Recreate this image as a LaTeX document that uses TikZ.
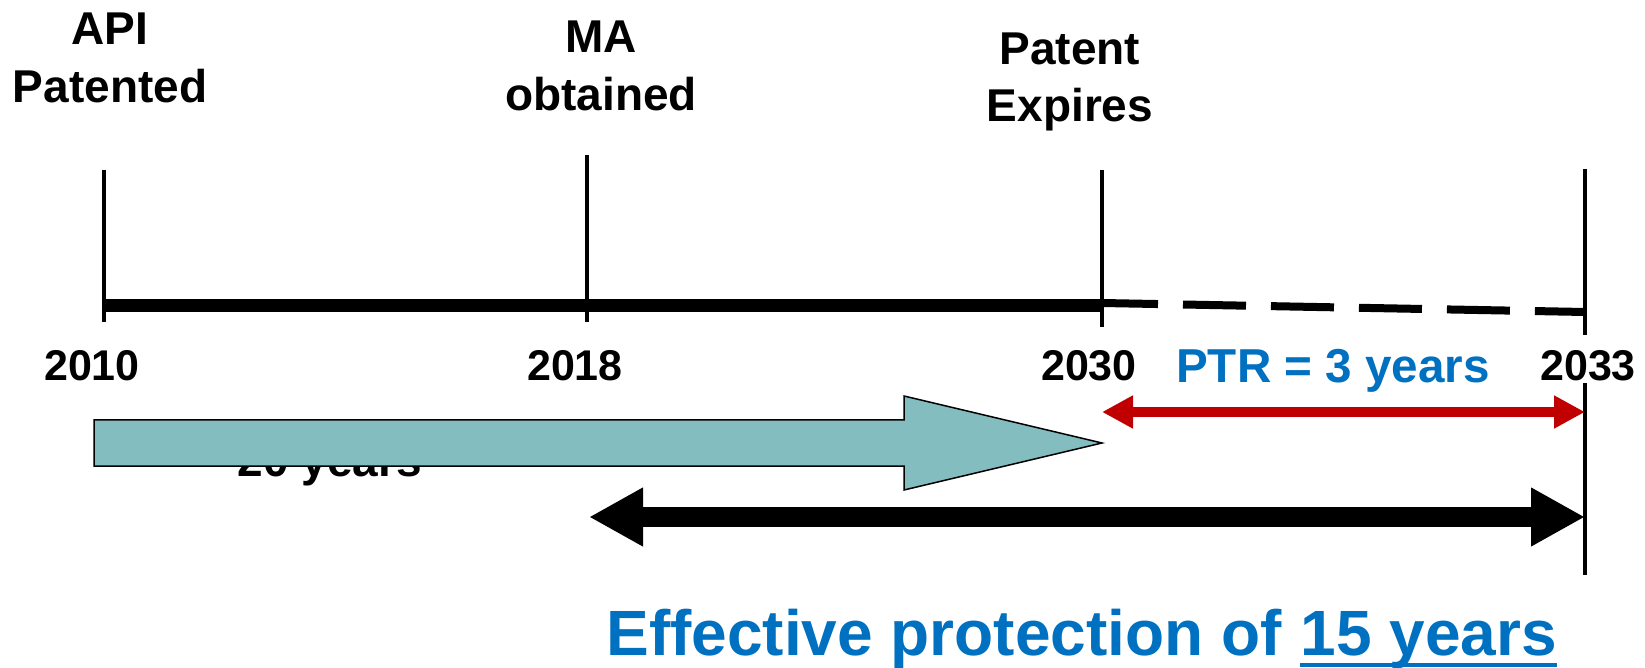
\documentclass[tikz,border=0pt]{standalone}
\usepackage{fontspec}
\setmainfont{Liberation Sans}
\usetikzlibrary{arrows.meta}
\definecolor{tealfill}{HTML}{84BDC0}
\definecolor{ptrblue}{HTML}{0070C0}
\definecolor{ptrred}{HTML}{C00000}
\tikzset{
  redtip/.tip={Triangle[length=15.5pt,width=15.5pt]},
  blacktip/.tip={Triangle[length=27pt,width=27.5pt]}}
\begin{document}
\begin{tikzpicture}[x=0.5pt,y=-0.5pt,
  lbl/.style={font=\fontsize{23pt}{28pt}\selectfont\bfseries, inner sep=0pt, anchor=base},
  yr/.style={font=\fontsize{21.5pt}{26pt}\selectfont\bfseries, inner sep=0pt, anchor=base},
  efftext/.style={font=\fontsize{32pt}{36pt}\selectfont\bfseries, text=ptrblue, inner sep=0pt, anchor=base west},
  tickline/.style={line width=2.25pt}]
\useasboundingbox (0,0) rectangle (1645,668);
% top labels
\node[lbl] (api) at (110,45) {API};
\node[lbl] (pat) at (110,103) {Patented};
\node[lbl] (ma) at (601,53) {MA};
\node[lbl] (obt) at (601,111) {obtained};
\node[lbl] (pt) at (1070,65) {Patent};
\node[lbl] (exp) at (1070,122) {Expires};
% tick coordinates
\coordinate (t1top) at (104,170); \coordinate (t1bot) at (104,322);
\coordinate (t2top) at (587,155); \coordinate (t2bot) at (587,322);
\coordinate (t3top) at (1102,170); \coordinate (t3bot) at (1102,327);
\coordinate (t4top) at (1585,169); \coordinate (t4a) at (1585,335);
\coordinate (t4b) at (1585,383); \coordinate (t4bot) at (1585,575);
\draw[tickline] (t1top) -- (t1bot);
\draw[tickline] (t2top) -- (t2bot);
\draw[tickline] (t3top) -- (t3bot);
\draw[tickline] (t4top) -- (t4a);
\draw[tickline] (t4b) -- (t4bot);
% main line
\coordinate (m1) at (104,306); \coordinate (m2) at (1102,306);
\coordinate (d1) at (1102,303); \coordinate (d2) at (1585,312);
\draw[line width=6.5pt] (m1) -- (m2);
\draw[line width=4pt, dash pattern=on 31.5pt off 12.5pt, dash phase=3.5pt] (d1) -- (d2);
% years
\node[yr] (y2010) at (92,380) {2010};
\node[yr] (y2018) at (575,380) {2018};
\node[yr] (y2030) at (1089,380) {2030};
\node[yr] (y2033) at (1588,380) {2033};
\node[lbl, font=\fontsize{23.8pt}{28pt}\selectfont\bfseries, text=ptrblue] (ptr) at (1333,383) {PTR = 3 years};
% red arrow
\coordinate (r1) at (1102,412); \coordinate (r2) at (1585,412);
\draw[ptrred, line width=5pt, redtip-redtip] (r1) -- (r2);
% 20 years (mostly hidden)
\node[lbl] (twenty) at (330,476) {20 years};
% teal block arrow
\coordinate (a1) at (94,420); \coordinate (a2) at (904,420); \coordinate (a3) at (904,396);
\coordinate (a4) at (1102,443); \coordinate (a5) at (904,490); \coordinate (a6) at (904,466);
\coordinate (a7) at (94,466);
\draw[fill=tealfill, line width=0.75pt, line join=miter] (a1) -- (a2) -- (a3) -- (a4) -- (a5) -- (a6) -- (a7) -- cycle;
% black double arrow
\coordinate (b1) at (589,517); \coordinate (b2) at (1585,517);
\draw[line width=10pt, blacktip-blacktip] (b1) -- (b2);
% bottom text
\node[efftext] (eff) at (606,655) {Effective protection of};
\node[efftext] (fy) at ([xshift=8.9pt]eff.base east) {15 years};
\draw[ptrblue, line width=2pt] ([yshift=-5pt]fy.base west) -- ([yshift=-5pt]fy.base east);
\end{tikzpicture}
\end{document}
